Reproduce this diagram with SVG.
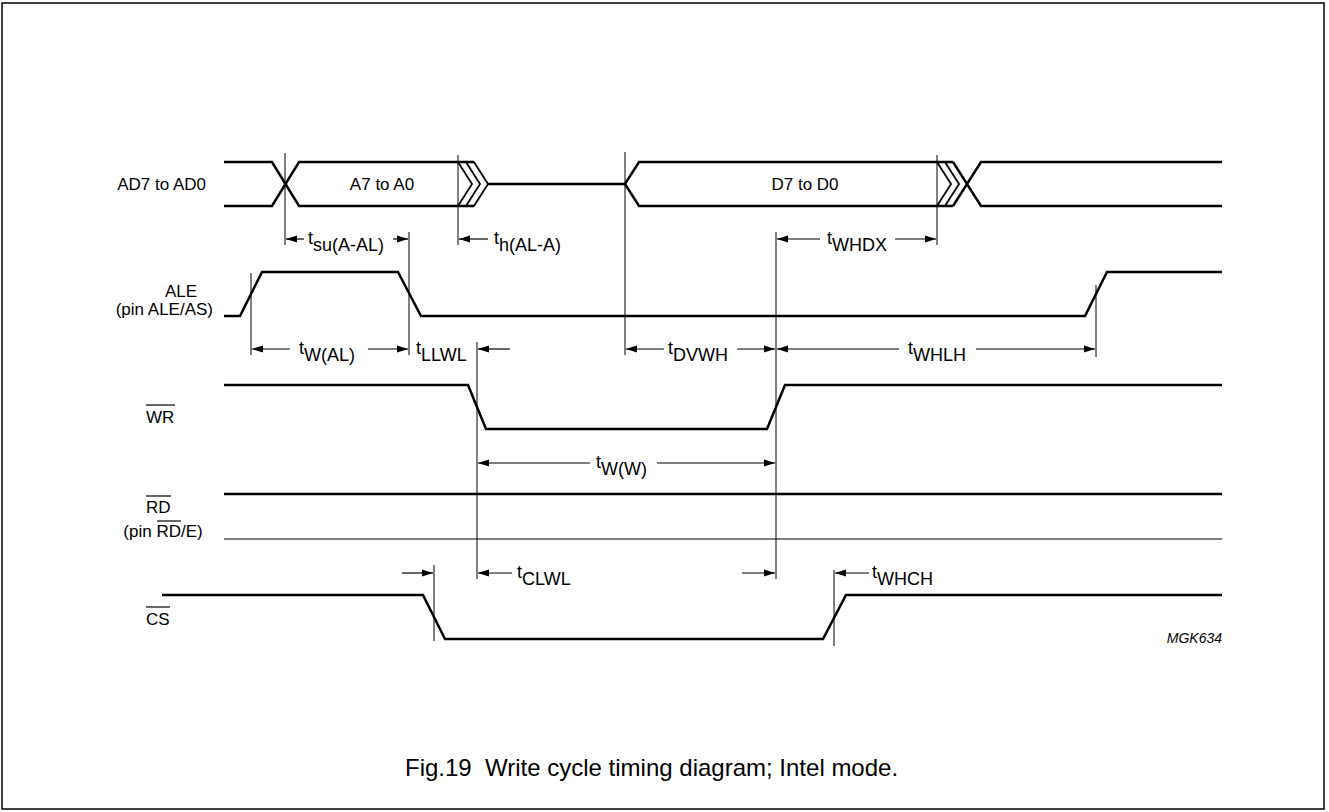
<svg xmlns="http://www.w3.org/2000/svg" width="1329" height="812" viewBox="0 0 1329 812">
<defs>
<marker id="ah" markerWidth="11" markerHeight="8" refX="11" refY="4" orient="auto" markerUnits="userSpaceOnUse"><path d="M0,0.5 L11,4 L0,7.5 z" fill="#000"/></marker>
</defs>
<style>
.sig{fill:none;stroke:#000;stroke-width:2.5;stroke-linejoin:miter}
.chev{fill:none;stroke:#000;stroke-width:1.8}
.g{stroke:#000;stroke-width:1;fill:none}
.a{stroke:#000;stroke-width:1.2;fill:none;marker-end:url(#ah)}
.ov{stroke:#000;stroke-width:1.2}
text{font-family:"Liberation Sans",Arial,sans-serif;font-size:17px;fill:#000}
.tl{font-size:18px}
.m{text-anchor:middle}
.e{text-anchor:end}
</style>
<rect x="2" y="3" width="1322" height="806" fill="#fff" stroke="#000" stroke-width="1.5"/>

<g id="signals">
<g id="ad-bus">
<path class="sig" d="M224,162 H272 L299,206 H474"/>
<path class="sig" d="M224,206 H272 L299,162 H474"/>
<path class="chev" d="M458,162 L472,184 L458,206 M466,162 L480,184 L466,206 M474,162 L488,184 L474,206"/>
<path class="sig" d="M488,184 H625 L639,162 H953 M625,184 L639,206 H953"/>
<path class="chev" d="M937,162 L951,184 L937,206 M945,162 L959,184 L945,206"/>
<path class="sig" d="M953,162 L981,206 H1222 M953,206 L981,162 H1222"/>
<text x="206" y="190" class="e">AD7 to AD0</text>
<text x="382" y="190" class="m">A7 to A0</text>
<text x="805" y="190" class="m">D7 to D0</text>
</g>
<g id="ale">
<path class="sig" d="M224,316 H240 L262,272 H398 L421,316 H1085 L1107,272 H1222"/>
<text x="181" y="297" class="m">ALE</text>
<text x="213" y="315" class="e">(pin ALE/AS)</text>
</g>
<g id="wr">
<path class="sig" d="M224,385 H468 L486,429 H767 L785,385 H1222"/>
<text x="146" y="423">WR</text>
<line class="ov" x1="146" y1="405" x2="175" y2="405"/>
</g>
<g id="rd">
<line class="sig" x1="224" y1="494" x2="1222" y2="494"/>
<line class="g" x1="224" y1="539" x2="1222" y2="539"/>
<text x="146" y="513">RD</text>
<line class="ov" x1="146" y1="496" x2="171" y2="496"/>
<text x="163" y="537" class="m">(pin RD/E)</text>
<line class="ov" x1="157" y1="521" x2="181" y2="521"/>
</g>
<g id="cs">
<path class="sig" d="M162,595 H423 L445,639 H823 L846,595 H1222"/>
<text x="146" y="625">CS</text>
<line class="ov" x1="146" y1="607" x2="170" y2="607"/>
</g>
</g>

<g id="connectors">
<g id="guides">
<line class="g" x1="285" y1="153" x2="285" y2="245"/>
<line class="g" x1="458" y1="155" x2="458" y2="245"/>
<line class="g" x1="409" y1="232" x2="409" y2="355"/>
<line class="g" x1="251" y1="273" x2="251" y2="355"/>
<line class="g" x1="625" y1="152" x2="625" y2="355"/>
<line class="g" x1="776" y1="232" x2="776" y2="579"/>
<line class="g" x1="937" y1="155" x2="937" y2="245"/>
<line class="g" x1="1096" y1="285" x2="1096" y2="357"/>
<line class="g" x1="477" y1="342" x2="477" y2="579"/>
<line class="g" x1="434" y1="565" x2="434" y2="641"/>
<line class="g" x1="834" y1="570" x2="834" y2="646"/>
</g>
<g id="arrows">
<line class="a" x1="304" y1="239" x2="286" y2="239"/>
<line class="a" x1="393" y1="239" x2="408" y2="239"/>
<line class="a" x1="488" y1="239" x2="459" y2="239"/>
<line class="a" x1="820" y1="239" x2="777" y2="239"/>
<line class="a" x1="895" y1="239" x2="936" y2="239"/>
<line class="a" x1="290" y1="349" x2="252" y2="349"/>
<line class="a" x1="368" y1="349" x2="408" y2="349"/>
<line class="a" x1="510" y1="349" x2="478" y2="349"/>
<line class="a" x1="664" y1="349" x2="626" y2="349"/>
<line class="a" x1="737" y1="349" x2="775" y2="349"/>
<line class="a" x1="899" y1="349" x2="777" y2="349"/>
<line class="a" x1="976" y1="349" x2="1095" y2="349"/>
<line class="a" x1="590" y1="463" x2="478" y2="463"/>
<line class="a" x1="657" y1="463" x2="775" y2="463"/>
<line class="a" x1="402" y1="573" x2="433" y2="573"/>
<line class="a" x1="512" y1="573" x2="478" y2="573"/>
<line class="a" x1="742" y1="573" x2="775" y2="573"/>
<line class="a" x1="869" y1="573" x2="835" y2="573"/>
</g>
<g id="timing-labels">
<text class="tl" x="308" y="244">t<tspan dy="7">su(A-AL)</tspan></text>
<text class="tl" x="494" y="244">t<tspan dy="7">h(AL-A)</tspan></text>
<text class="tl" x="827" y="244">t<tspan dy="7">WHDX</tspan></text>
<text class="tl" x="299" y="354">t<tspan dy="7">W(AL)</tspan></text>
<text class="tl" x="416" y="354">t<tspan dy="7">LLWL</tspan></text>
<text class="tl" x="668" y="354">t<tspan dy="7">DVWH</tspan></text>
<text class="tl" x="908" y="354">t<tspan dy="7">WHLH</tspan></text>
<text class="tl" x="596" y="468">t<tspan dy="7">W(W)</tspan></text>
<text class="tl" x="517" y="578">t<tspan dy="7">CLWL</tspan></text>
<text class="tl" x="872" y="578">t<tspan dy="7">WHCH</tspan></text>
</g>
</g>

<text x="1222" y="643" class="e" style="font-size:14px;font-style:italic">MGK634</text>
<text x="405" y="776" style="font-size:24px">Fig.19&#160; Write cycle timing diagram; Intel mode.</text>
</svg>
